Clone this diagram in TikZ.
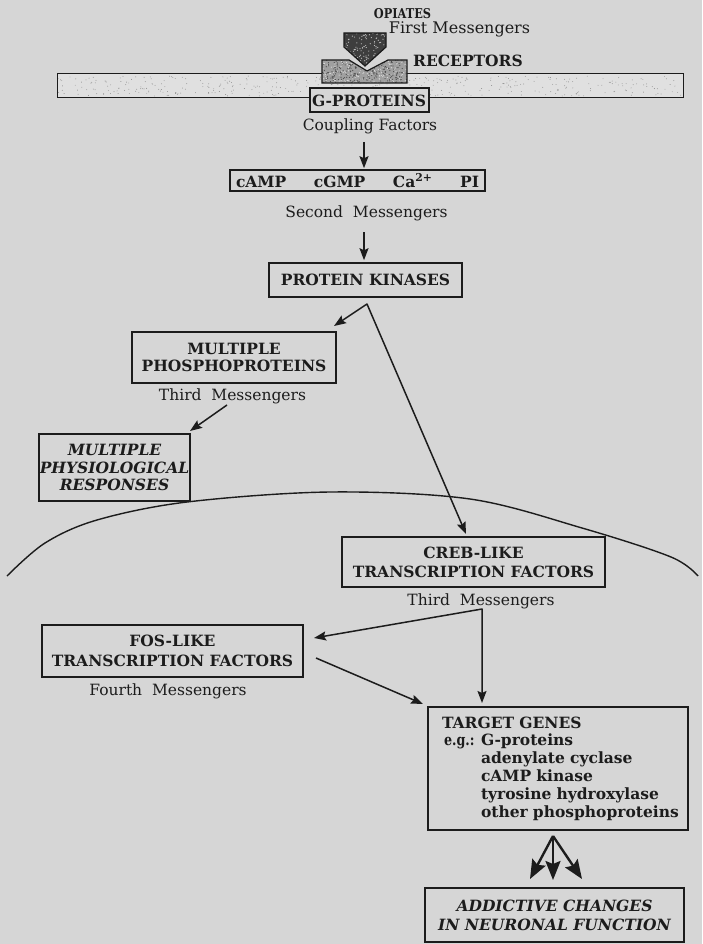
\documentclass[tikz,border=0pt]{standalone}
\usepackage{fontspec}
\usepackage{graphicx}
\setmainfont{DejaVu Serif}
\usetikzlibrary{arrows.meta}
\definecolor{bg}{RGB}{214,214,214}
\definecolor{ink}{RGB}{28,28,28}
\definecolor{memfill}{RGB}{224,224,224}
\definecolor{recfill}{RGB}{160,160,160}
\definecolor{opfill}{RGB}{62,62,62}
\tikzset{
  bx/.style={draw=ink, line width=1.6pt, fill=bg, inner sep=0pt, align=center, text=ink,
    font=\bfseries\fontsize{15.5}{18.5}\selectfont},
  ibx/.style={bx, font=\bfseries\itshape\fontsize{15.5}{18}\selectfont},
  lab/.style={inner sep=0pt, anchor=base, text=ink, font=\fontsize{15.5}{18}\selectfont},
  blab/.style={inner sep=0pt, anchor=base, text=ink, font=\bfseries\fontsize{15.5}{18}\selectfont},
  arr/.style={draw=ink, line width=1.5pt, line join=round, -{Stealth[length=12pt,width=9pt,inset=2pt]}},
  darr/.style={draw=ink, line width=1.5pt, line join=round, {Stealth[length=12pt,width=9pt,inset=2pt]}-{Stealth[length=12pt,width=9pt,inset=2pt]}},
  bigarr/.style={draw=ink, line width=2.4pt, -{Stealth[length=19pt,width=15pt,inset=3pt]}},
}
\begin{document}
\begin{tikzpicture}[x=1pt,y=-1pt]
\fill[bg] (0,0) rectangle (702,944);
\useasboundingbox (0,0) rectangle (702,944);
\pgfmathsetseed{7}

% membrane
\fill[memfill] (57,74) rectangle (683,98);
\foreach \k in {1,...,420}{
  \pgfmathsetmacro\rx{58+624*rnd}
  \pgfmathsetmacro\ry{76+20*rnd}
  \fill[black!45] (\rx,\ry) circle (0.45);
}
\draw[ink, line width=1pt] (57,74) rectangle (683,98);

% receptor
\path[fill=recfill] (322,83) -- (322,60) -- (349,60) -- (367,71) -- (388,60) -- (407,60) -- (407,83) -- cycle;
\begin{scope}
  \clip (322,83) -- (322,60) -- (349,60) -- (367,71) -- (388,60) -- (407,60) -- (407,83) -- cycle;
  \foreach \k in {1,...,260}{
    \pgfmathsetmacro\rx{322+85*rnd}
    \pgfmathsetmacro\ry{60+23*rnd}
    \fill[black!70] (\rx,\ry) circle (0.6);
  }
  \foreach \k in {1,...,160}{
    \pgfmathsetmacro\rx{322+85*rnd}
    \pgfmathsetmacro\ry{60+23*rnd}
    \fill[white!85!black] (\rx,\ry) circle (0.6);
  }
\end{scope}
\draw[ink, line width=1.2pt] (322,83) -- (322,60) -- (349,60) -- (367,71) -- (388,60) -- (407,60) -- (407,83) -- cycle;

% opiate
\path[fill=opfill] (344,33) -- (386,33) -- (386,47) -- (365,66) -- (344,47) -- cycle;
\begin{scope}
  \clip (344,33) -- (386,33) -- (386,47) -- (365,66) -- (344,47) -- cycle;
  \foreach \k in {1,...,120}{
    \pgfmathsetmacro\rx{344+42*rnd}
    \pgfmathsetmacro\ry{33+33*rnd}
    \fill[black!25] (\rx,\ry) circle (0.6);
  }
\end{scope}
\draw[ink, line width=1.2pt] (344,33) -- (386,33) -- (386,47) -- (365,66) -- (344,47) -- cycle;

% nucleus arc
\draw[ink, line width=1.4pt] plot[smooth, tension=0.55] coordinates {(7,576) (45,543) (97,520) (187,502) (330,492) (470,499) (582,528) (671,557) (698,576)};

% labels and boxes
\node[blab, font=\bfseries\fontsize{13.5}{16}\selectfont] (opi) at (402.5,19) {\scalebox{0.84}[1]{OPIATES}};
\node[lab, font=\fontsize{16}{18}\selectfont] (fm) at (459.5,34) {First Messengers};
\node[blab] (rec) at (468,67) {RECEPTORS};
\node[bx, line width=2pt, minimum width=119pt, minimum height=24pt] (gp) at (369,100.5) {G-PROTEINS};
\node[lab] (coup) at (370,131) {Coupling Factors};
\node[bx, minimum width=255pt, minimum height=21pt] (sm) at (357.5,180.5) {\hbox to 243pt{cAMP\hfil cGMP\hfil Ca\textsuperscript{2+}\hfil PI}};
\node[lab] (smlab) at (366.5,217) {Second~ Messengers};
\node[bx, minimum width=193pt, minimum height=34pt] (pk) at (365.5,280) {PROTEIN KINASES};
\node[bx, minimum width=204pt, minimum height=51pt, font=\bfseries\fontsize{15.5}{17}\selectfont] (mpp) at (234,357.5) {MULTIPLE\\PHOSPHOPROTEINS};
\node[lab] (tm1) at (232.5,400) {Third~ Messengers};
\node[ibx, minimum width=151pt, minimum height=67pt, font=\bfseries\itshape\fontsize{15.5}{17.5}\selectfont] (mpr) at (114.5,467.5) {MULTIPLE\\PHYSIOLOGICAL\\RESPONSES};
\node[bx, minimum width=263pt, minimum height=50pt, font=\bfseries\fontsize{15.5}{19}\selectfont] (creb) at (473.5,562) {CREB-LIKE\\TRANSCRIPTION FACTORS};
\node[lab] (tm2) at (481,605) {Third~ Messengers};
\node[bx, minimum width=261pt, minimum height=52pt, font=\bfseries\fontsize{15.5}{20}\selectfont] (fos) at (172.5,651) {FOS-LIKE\\TRANSCRIPTION FACTORS};
\node[lab] (fm4) at (168,695) {Fourth~ Messengers};
\node[bx, minimum width=260pt, minimum height=123pt, text width=248pt, align=left, font=\bfseries\fontsize{15.5}{17.8}\selectfont] (tgt) at (558,768.5)
  {\hspace*{8pt}TARGET GENES\\
   \hspace*{10pt}\makebox[37pt][l]{\scalebox{0.82}[1]{e.g.:}}G-proteins\\
   \hspace*{47pt}adenylate cyclase\\
   \hspace*{47pt}cAMP kinase\\
   \hspace*{47pt}tyrosine hydroxylase\\
   \hspace*{47pt}other phosphoproteins};
\node[ibx, minimum width=259pt, minimum height=54pt, font=\bfseries\itshape\fontsize{15.5}{19}\selectfont] (add) at (554.5,915) {ADDICTIVE CHANGES\\IN NEURONAL FUNCTION};

% connectors
\coordinate (a1s) at (364,142);
\draw[arr, shorten >=1pt] (a1s) -- (a1s |- sm.north);
\coordinate (a2s) at (364,232);
\draw[arr, shorten >=2pt] (a2s) -- (a2s |- pk.north);
\coordinate (pkb) at (367,304);
\coordinate (t1) at (334,326);
\coordinate (t2) at (466,534);
\draw[darr] (t1) -- (pkb) -- (t2);
\coordinate (a4s) at (227,405);
\coordinate (t4) at (190,431);
\draw[arr] (a4s) -- (t4);
\coordinate (cb) at (482,609);
\coordinate (t5) at (314,638);
\coordinate (t5b) at (482,703);
\draw[darr] (t5) -- (cb) -- (t5b);
\coordinate (a6s) at (316,658);
\coordinate (t6) at (423,704);
\draw[arr] (a6s) -- (t6);
\coordinate (tg) at (553,836);
\coordinate (t7a) at (530,879);
\coordinate (t7b) at (553,880);
\coordinate (t7c) at (582,879);
\draw[bigarr] (tg) -- (t7a);
\draw[bigarr] (tg) -- (t7b);
\draw[bigarr] (tg) -- (t7c);
\end{tikzpicture}
\end{document}
